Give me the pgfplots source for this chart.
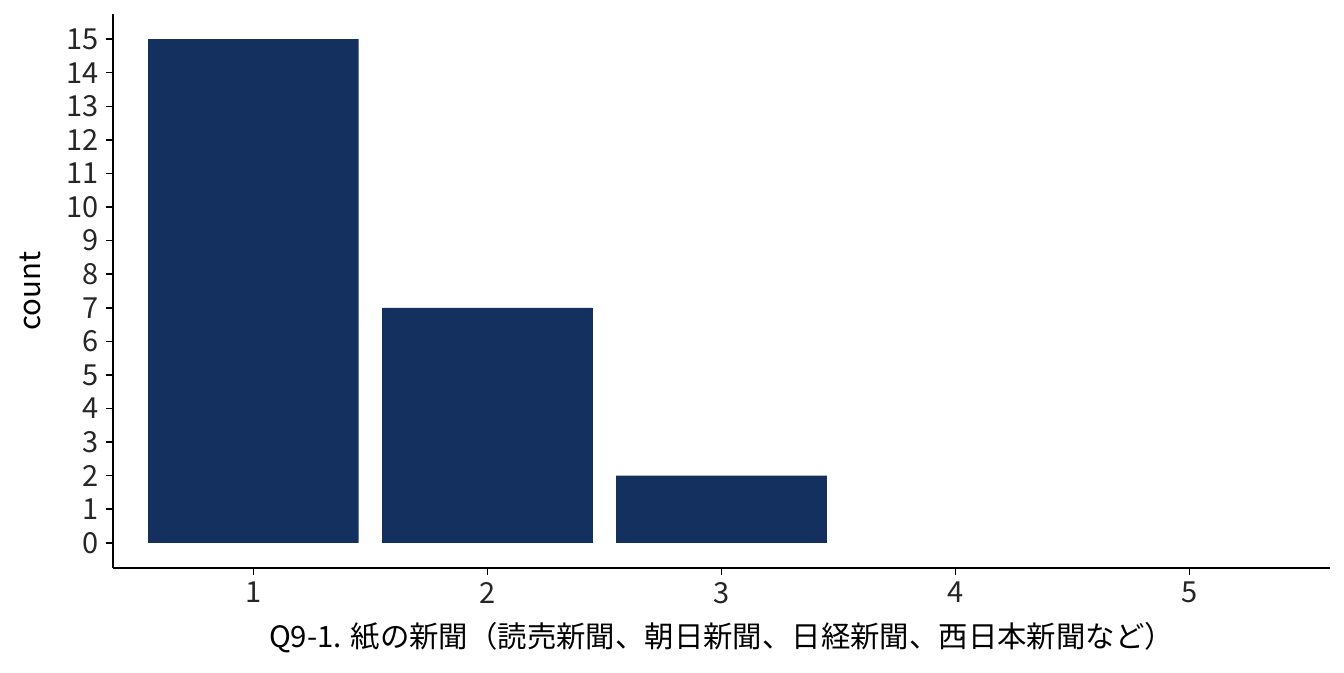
\documentclass[border=0pt]{standalone}
\usepackage{fontspec}
\setmainfont{Noto Sans CJK JP}
\usepackage{pgfplots}
\pgfplotsset{compat=1.18}
\definecolor{barnavy}{RGB}{20,48,94}
\begin{document}
\begin{tikzpicture}
\begin{axis}[
  scale only axis,
  width=608.5pt, height=277pt,
  xmin=0.4, xmax=5.6, ymin=-0.75, ymax=15.75,
  axis x line*=bottom, axis y line*=left,
  xtick={1,2,3,4,5}, ytick={0,1,...,15},
  tick align=outside, major tick length=3.5pt,
  tick style={black, line width=0.75pt},
  axis line style={black, line width=0.75pt},
  /pgf/number format/assume math mode=true,
  ticklabel style={font=\fontsize{14.5}{17}\selectfont, text=black!85},
  label style={font=\fontsize{14.7}{18}\selectfont, text=black},
  xlabel={Q9-1. 紙の新聞（読売新聞、朝日新聞、日経新聞、西日本新聞など）},
  ylabel={count},
  xlabel style={at={(axis description cs:0.5,0)}, anchor=center, yshift=-35pt},
  ylabel style={at={(axis description cs:0,0.5)}, anchor=center, yshift=41.5pt},
  ybar, bar width=0.9,
]
\addplot[fill=barnavy, draw=none] coordinates {(1,15) (2,7) (3,2)};
\end{axis}
\pgfresetboundingbox
\path (current axis.south west) ++(-56.5pt,-52pt) rectangle ([shift={(7pt,7pt)}]current axis.north east);
\end{tikzpicture}
\end{document}
